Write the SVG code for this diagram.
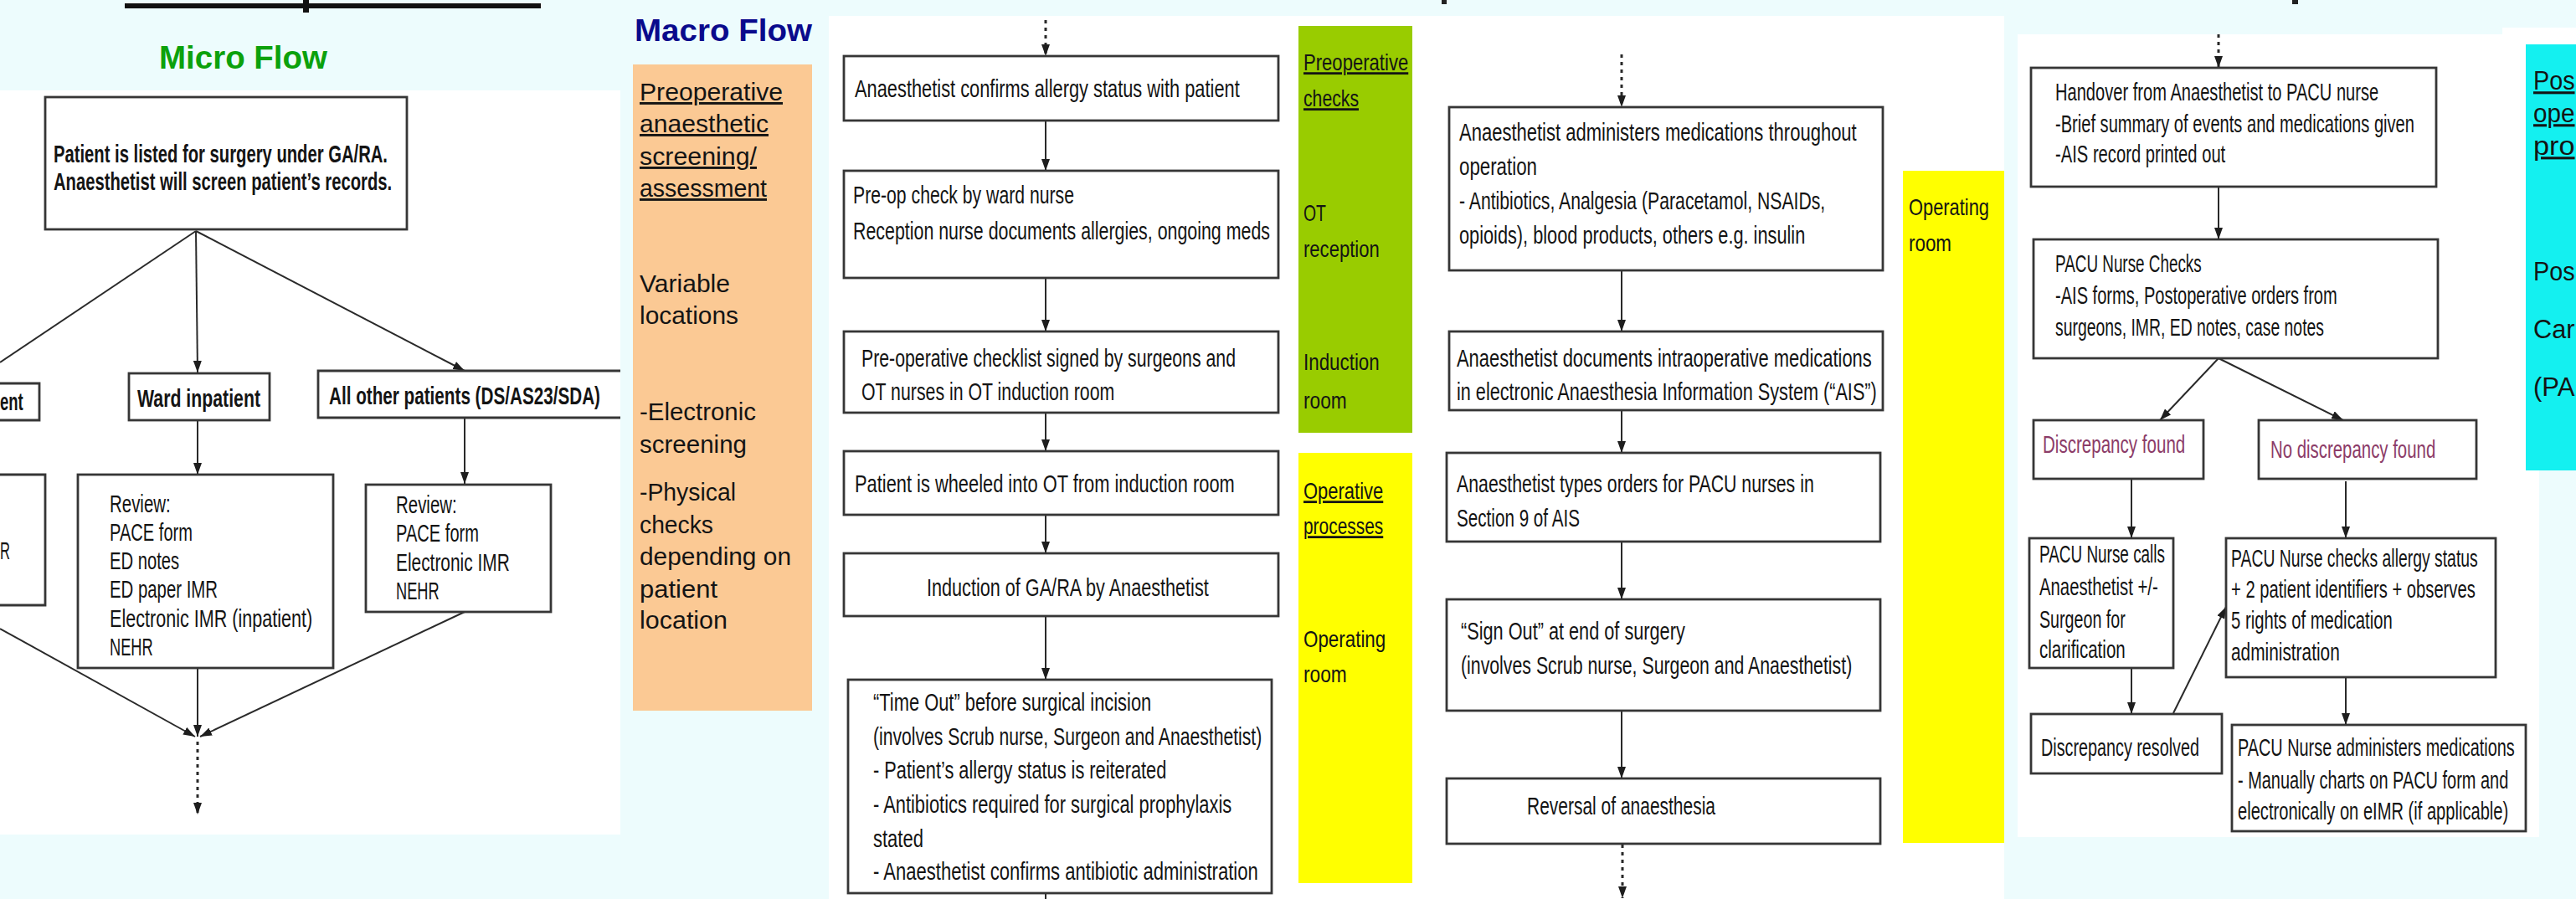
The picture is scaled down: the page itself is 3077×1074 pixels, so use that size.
<svg xmlns="http://www.w3.org/2000/svg" width="3077" height="1074" viewBox="0 0 3077 1074">
<style>
.bg{fill:#edfcfd}
.pn{fill:#ffffff}
.bx{fill:#ffffff;stroke:#363636;stroke-width:2.8}
.ln{stroke:#2a2a2a;stroke-width:2;fill:none}
.dl{stroke:#2a2a2a;stroke-width:3;fill:none;stroke-dasharray:4 5}
.t{font-family:"Liberation Sans",Arial,sans-serif;font-size:30px;fill:#141414}
.r29{font-size:29px}
.r28{font-size:28px}
.b{font-weight:bold}
.u{text-decoration:underline}
.m{font-size:29px}
.p{fill:#8c3c68}
</style>
<defs>
<marker id="ah" viewBox="0 0 14 10" refX="14" refY="5" markerWidth="14" markerHeight="10" markerUnits="userSpaceOnUse" orient="auto">
<path d="M0,0 L14,5 L0,10 z" fill="#1e1e1e"/>
</marker>
</defs>

<rect class="bg" x="0" y="0" width="3077" height="1074"/>
<g id="panels">
<rect class="pn" x="0" y="108" width="741" height="889"/>
<rect class="pn" x="990" y="19" width="1404" height="1055"/>
<rect class="pn" x="2410" y="41" width="623" height="959"/>
<rect class="pn" x="2989" y="33" width="88" height="30"/>
<rect x="149" y="4" width="497" height="6" fill="#111"/>
<rect x="362" y="0" width="7" height="15" fill="#111"/>
<rect x="1722" y="0" width="6" height="5" fill="#222"/>
<rect x="2738" y="0" width="7" height="5" fill="#222"/>
</g>

<g id="micro-title">
<text class="t b" x="190" y="82" style="font-size:38px;fill:#0ca10c" textLength="201" lengthAdjust="spacingAndGlyphs">Micro Flow</text>
</g>

<g id="connectors">
<path class="ln" d="M234,276 L0,433"/>
<path class="ln" d="M234,276 L236,445" marker-end="url(#ah)"/>
<path class="ln" d="M234,276 L555,443" marker-end="url(#ah)"/>
<path class="ln" d="M236,502 L236,567" marker-end="url(#ah)"/>
<path class="ln" d="M555,499 L555,578" marker-end="url(#ah)"/>
<path class="ln" d="M0,751 L233,880" marker-end="url(#ah)"/>
<path class="ln" d="M236,798 L236,880" marker-end="url(#ah)"/>
<path class="ln" d="M555,731 L239,880" marker-end="url(#ah)"/>
<path class="dl" d="M236,886 L236,973" marker-end="url(#ah)"/>

<path class="dl" d="M1249,24 L1249,67" marker-end="url(#ah)"/>
<path class="ln" d="M1249,144 L1249,204" marker-end="url(#ah)"/>
<path class="ln" d="M1249,332 L1249,396" marker-end="url(#ah)"/>
<path class="ln" d="M1249,493 L1249,539" marker-end="url(#ah)"/>
<path class="ln" d="M1249,615 L1249,661" marker-end="url(#ah)"/>
<path class="ln" d="M1249,736 L1249,812" marker-end="url(#ah)"/>
<path class="ln" d="M1249,1067 L1249,1074"/>

<path class="dl" d="M1937,65 L1937,128" marker-end="url(#ah)"/>
<path class="ln" d="M1937,323 L1937,396" marker-end="url(#ah)"/>
<path class="ln" d="M1937,470 L1937,541" marker-end="url(#ah)"/>
<path class="ln" d="M1937,647 L1937,716" marker-end="url(#ah)"/>
<path class="ln" d="M1937,849 L1937,930" marker-end="url(#ah)"/>
<path class="dl" d="M1938,1009 L1938,1073" marker-end="url(#ah)"/>

<path class="dl" d="M2650,41 L2650,81" marker-end="url(#ah)"/>
<path class="ln" d="M2650,223 L2650,286" marker-end="url(#ah)"/>
<path class="ln" d="M2650,428 L2580,502" marker-end="url(#ah)"/>
<path class="ln" d="M2650,428 L2799,502" marker-end="url(#ah)"/>
<path class="ln" d="M2546,572 L2546,643" marker-end="url(#ah)"/>
<path class="ln" d="M2802,575 L2802,643" marker-end="url(#ah)"/>
<path class="ln" d="M2546,798 L2546,853" marker-end="url(#ah)"/>
<path class="ln" d="M2596,852 L2659,725" marker-end="url(#ah)"/>
<path class="ln" d="M2802,803 L2802,866" marker-end="url(#ah)"/>
</g>

<g id="n-listed">
<rect class="bx" x="54" y="116" width="432" height="158"/>
<text class="t b" x="64" y="194" transform="matrix(.75 0 0 1 16 0)" textLength="532" lengthAdjust="spacingAndGlyphs">Patient is listed for surgery under GA/RA.</text>
<text class="t b" x="64" y="227" transform="matrix(.75 0 0 1 16 0)" textLength="539" lengthAdjust="spacingAndGlyphs">Anaesthetist will screen patient’s records.</text>
</g>
<g id="n-ent">
<path class="bx" d="M0,458 H47 V502 H0"/>
<text class="t b" x="0" y="490" transform="matrix(.75 0 0 1 0 0)" textLength="37" lengthAdjust="spacingAndGlyphs">ent</text>
</g>
<g id="n-ward">
<rect class="bx" x="154" y="446" width="168" height="56"/>
<text class="t b" x="164" y="486" transform="matrix(.75 0 0 1 41 0)" textLength="196" lengthAdjust="spacingAndGlyphs">Ward inpatient</text>
</g>
<g id="n-other">
<path class="bx" d="M741,443 H380 V499 H741"/>
<text class="t b" x="393" y="483" transform="matrix(.75 0 0 1 98.25 0)" textLength="432" lengthAdjust="spacingAndGlyphs">All other patients (DS/AS23/SDA)</text>
</g>
<g id="n-review-left">
<path class="bx" d="M0,567 H54 V723 H0"/>
<text class="t r29" x="0" y="668" transform="matrix(.75 0 0 1 0 0)" textLength="16" lengthAdjust="spacingAndGlyphs">R</text>
</g>
<g id="n-review-ward">
<rect class="bx" x="93" y="567" width="305" height="231"/>
<text class="t r29" x="131" y="612" transform="matrix(.75 0 0 1 32.75 0)" textLength="97" lengthAdjust="spacingAndGlyphs">Review:</text>
<text class="t r29" x="131" y="646" transform="matrix(.75 0 0 1 32.75 0)" textLength="132" lengthAdjust="spacingAndGlyphs">PACE form</text>
<text class="t r29" x="131" y="680" transform="matrix(.75 0 0 1 32.75 0)" textLength="111" lengthAdjust="spacingAndGlyphs">ED notes</text>
<text class="t r29" x="131" y="714" transform="matrix(.75 0 0 1 32.75 0)" textLength="172" lengthAdjust="spacingAndGlyphs">ED paper IMR</text>
<text class="t r29" x="131" y="749" transform="matrix(.75 0 0 1 32.75 0)" textLength="323" lengthAdjust="spacingAndGlyphs">Electronic IMR (inpatient)</text>
<text class="t r29" x="131" y="783" transform="matrix(.75 0 0 1 32.75 0)" textLength="69" lengthAdjust="spacingAndGlyphs">NEHR</text>
</g>
<g id="n-review-other">
<rect class="bx" x="437" y="579" width="221" height="152"/>
<text class="t r29" x="473" y="613" transform="matrix(.75 0 0 1 118.25 0)" textLength="97" lengthAdjust="spacingAndGlyphs">Review:</text>
<text class="t r29" x="473" y="647" transform="matrix(.75 0 0 1 118.25 0)" textLength="132" lengthAdjust="spacingAndGlyphs">PACE form</text>
<text class="t r29" x="473" y="682" transform="matrix(.75 0 0 1 118.25 0)" textLength="181" lengthAdjust="spacingAndGlyphs">Electronic IMR</text>
<text class="t r29" x="473" y="716" transform="matrix(.75 0 0 1 118.25 0)" textLength="69" lengthAdjust="spacingAndGlyphs">NEHR</text>
</g>

<g id="macro">
<text class="t b" x="758" y="49" style="font-size:36px;fill:#0a0a8c" textLength="212" lengthAdjust="spacingAndGlyphs">Macro Flow</text>
<rect x="756" y="77" width="214" height="772" fill="#fbc994"/>
<text class="t m u" x="764" y="120" textLength="171" lengthAdjust="spacingAndGlyphs">Preoperative</text>
<text class="t m u" x="764" y="158" textLength="154" lengthAdjust="spacingAndGlyphs">anaesthetic</text>
<text class="t m u" x="764" y="197" textLength="140" lengthAdjust="spacingAndGlyphs">screening/</text>
<text class="t m u" x="764" y="235" textLength="152" lengthAdjust="spacingAndGlyphs">assessment</text>
<text class="t m" x="764" y="349" textLength="108" lengthAdjust="spacingAndGlyphs">Variable</text>
<text class="t m" x="764" y="387" textLength="118" lengthAdjust="spacingAndGlyphs">locations</text>
<text class="t m" x="764" y="502" textLength="139" lengthAdjust="spacingAndGlyphs">-Electronic</text>
<text class="t m" x="764" y="541" textLength="128" lengthAdjust="spacingAndGlyphs">screening</text>
<text class="t m" x="764" y="598" textLength="115" lengthAdjust="spacingAndGlyphs">-Physical</text>
<text class="t m" x="764" y="637" textLength="88" lengthAdjust="spacingAndGlyphs">checks</text>
<text class="t m" x="764" y="675" textLength="181" lengthAdjust="spacingAndGlyphs">depending on</text>
<text class="t m" x="764" y="714" textLength="93" lengthAdjust="spacingAndGlyphs">patient</text>
<text class="t m" x="764" y="751" textLength="105" lengthAdjust="spacingAndGlyphs">location</text>
</g>

<g id="n-confirm">
<rect class="bx" x="1008" y="67" width="519" height="77"/>
<text class="t" x="1021" y="116" transform="matrix(.75 0 0 1 255.25 0)" textLength="613" lengthAdjust="spacingAndGlyphs">Anaesthetist confirms allergy status with patient</text>
</g>
<g id="n-preop">
<rect class="bx" x="1008" y="204" width="519" height="128"/>
<text class="t" x="1019" y="243" transform="matrix(.75 0 0 1 254.75 0)" textLength="352" lengthAdjust="spacingAndGlyphs">Pre-op check by ward nurse</text>
<text class="t" x="1019" y="286" transform="matrix(.75 0 0 1 254.75 0)" textLength="664" lengthAdjust="spacingAndGlyphs">Reception nurse documents allergies, ongoing meds</text>
</g>
<g id="n-checklist">
<rect class="bx" x="1008" y="396" width="519" height="97"/>
<text class="t" x="1029" y="438" transform="matrix(.75 0 0 1 257.25 0)" textLength="596" lengthAdjust="spacingAndGlyphs">Pre-operative checklist signed by surgeons and</text>
<text class="t" x="1029" y="478" transform="matrix(.75 0 0 1 257.25 0)" textLength="403" lengthAdjust="spacingAndGlyphs">OT nurses in OT induction room</text>
</g>
<g id="n-wheeled">
<rect class="bx" x="1008" y="539" width="519" height="76"/>
<text class="t" x="1021" y="588" transform="matrix(.75 0 0 1 255.25 0)" textLength="605" lengthAdjust="spacingAndGlyphs">Patient is wheeled into OT from induction room</text>
</g>
<g id="n-induction">
<rect class="bx" x="1008" y="661" width="519" height="75"/>
<text class="t" x="1107" y="712" transform="matrix(.75 0 0 1 276.75 0)" textLength="449" lengthAdjust="spacingAndGlyphs">Induction of GA/RA by Anaesthetist</text>
</g>
<g id="n-timeout">
<rect class="bx" x="1013" y="812" width="506" height="255"/>
<text class="t" x="1043" y="849" transform="matrix(.75 0 0 1 260.75 0)" textLength="443" lengthAdjust="spacingAndGlyphs">“Time Out” before surgical incision</text>
<text class="t" x="1043" y="890" transform="matrix(.75 0 0 1 260.75 0)" textLength="619" lengthAdjust="spacingAndGlyphs">(involves Scrub nurse, Surgeon and Anaesthetist)</text>
<text class="t" x="1043" y="930" transform="matrix(.75 0 0 1 260.75 0)" textLength="467" lengthAdjust="spacingAndGlyphs">- Patient’s allergy status is reiterated</text>
<text class="t" x="1043" y="971" transform="matrix(.75 0 0 1 260.75 0)" textLength="571" lengthAdjust="spacingAndGlyphs">- Antibiotics required for surgical prophylaxis</text>
<text class="t" x="1043" y="1012" transform="matrix(.75 0 0 1 260.75 0)" textLength="80" lengthAdjust="spacingAndGlyphs">stated</text>
<text class="t" x="1043" y="1051" transform="matrix(.75 0 0 1 260.75 0)" textLength="613" lengthAdjust="spacingAndGlyphs">- Anaesthetist confirms antibiotic administration</text>
</g>

<g id="bars">
<rect x="1551" y="31" width="136" height="486" fill="#99cc00"/>
<rect x="1551" y="541" width="136" height="514" fill="#ffff00"/>
<rect x="2273" y="204" width="121" height="803" fill="#ffff00"/>
<text class="t r28 u" x="1557" y="84" transform="matrix(.75 0 0 1 389.25 0)" textLength="167" lengthAdjust="spacingAndGlyphs">Preoperative</text>
<text class="t r28 u" x="1557" y="127" transform="matrix(.75 0 0 1 389.25 0)" textLength="88" lengthAdjust="spacingAndGlyphs">checks</text>
<text class="t r28" x="1557" y="264" transform="matrix(.75 0 0 1 389.25 0)" textLength="36" lengthAdjust="spacingAndGlyphs">OT</text>
<text class="t r28" x="1557" y="307" transform="matrix(.75 0 0 1 389.25 0)" textLength="121" lengthAdjust="spacingAndGlyphs">reception</text>
<text class="t r28" x="1557" y="442" transform="matrix(.75 0 0 1 389.25 0)" textLength="121" lengthAdjust="spacingAndGlyphs">Induction</text>
<text class="t r28" x="1557" y="488" transform="matrix(.75 0 0 1 389.25 0)" textLength="69" lengthAdjust="spacingAndGlyphs">room</text>
<text class="t r28 u" x="1557" y="596" transform="matrix(.75 0 0 1 389.25 0)" textLength="127" lengthAdjust="spacingAndGlyphs">Operative</text>
<text class="t r28 u" x="1557" y="638" transform="matrix(.75 0 0 1 389.25 0)" textLength="127" lengthAdjust="spacingAndGlyphs">processes</text>
<text class="t r28" x="1557" y="773" transform="matrix(.75 0 0 1 389.25 0)" textLength="131" lengthAdjust="spacingAndGlyphs">Operating</text>
<text class="t r28" x="1557" y="815" transform="matrix(.75 0 0 1 389.25 0)" textLength="69" lengthAdjust="spacingAndGlyphs">room</text>
<text class="t r28" x="2280" y="257" transform="matrix(.75 0 0 1 570 0)" textLength="128" lengthAdjust="spacingAndGlyphs">Operating</text>
<text class="t r28" x="2280" y="300" transform="matrix(.75 0 0 1 570 0)" textLength="68" lengthAdjust="spacingAndGlyphs">room</text>
</g>

<g id="n-administers">
<rect class="bx" x="1731" y="128" width="518" height="195"/>
<text class="t" x="1743" y="168" transform="matrix(.75 0 0 1 435.75 0)" textLength="633" lengthAdjust="spacingAndGlyphs">Anaesthetist administers medications throughout</text>
<text class="t" x="1743" y="209" transform="matrix(.75 0 0 1 435.75 0)" textLength="124" lengthAdjust="spacingAndGlyphs">operation</text>
<text class="t" x="1743" y="250" transform="matrix(.75 0 0 1 435.75 0)" textLength="583" lengthAdjust="spacingAndGlyphs">- Antibiotics, Analgesia (Paracetamol, NSAIDs,</text>
<text class="t" x="1743" y="291" transform="matrix(.75 0 0 1 435.75 0)" textLength="551" lengthAdjust="spacingAndGlyphs">opioids), blood products, others e.g. insulin</text>
</g>
<g id="n-documents">
<rect class="bx" x="1731" y="396" width="518" height="94"/>
<text class="t" x="1740" y="438" transform="matrix(.75 0 0 1 435 0)" textLength="661" lengthAdjust="spacingAndGlyphs">Anaesthetist documents intraoperative medications</text>
<text class="t" x="1740" y="478" transform="matrix(.75 0 0 1 435 0)" textLength="669" lengthAdjust="spacingAndGlyphs">in electronic Anaesthesia Information System (“AIS”)</text>
</g>
<g id="n-orders">
<rect class="bx" x="1728" y="541" width="518" height="106"/>
<text class="t" x="1740" y="588" transform="matrix(.75 0 0 1 435 0)" textLength="569" lengthAdjust="spacingAndGlyphs">Anaesthetist types orders for PACU nurses in</text>
<text class="t" x="1740" y="629" transform="matrix(.75 0 0 1 435 0)" textLength="196" lengthAdjust="spacingAndGlyphs">Section 9 of AIS</text>
</g>
<g id="n-signout">
<rect class="bx" x="1728" y="716" width="518" height="133"/>
<text class="t" x="1745" y="764" transform="matrix(.75 0 0 1 436.25 0)" textLength="357" lengthAdjust="spacingAndGlyphs">“Sign Out” at end of surgery</text>
<text class="t" x="1745" y="805" transform="matrix(.75 0 0 1 436.25 0)" textLength="623" lengthAdjust="spacingAndGlyphs">(involves Scrub nurse, Surgeon and Anaesthetist)</text>
</g>
<g id="n-reversal">
<rect class="bx" x="1728" y="930" width="518" height="78"/>
<text class="t" x="1824" y="973" transform="matrix(.75 0 0 1 456 0)" textLength="300" lengthAdjust="spacingAndGlyphs">Reversal of anaesthesia</text>
</g>

<g id="n-handover">
<rect class="bx" x="2426" y="81" width="484" height="142"/>
<text class="t r29" x="2455" y="120" transform="matrix(.75 0 0 1 613.75 0)" textLength="515" lengthAdjust="spacingAndGlyphs">Handover from Anaesthetist to PACU nurse</text>
<text class="t r29" x="2455" y="158" transform="matrix(.75 0 0 1 613.75 0)" textLength="572" lengthAdjust="spacingAndGlyphs">-Brief summary of events and medications given</text>
<text class="t r29" x="2455" y="194" transform="matrix(.75 0 0 1 613.75 0)" textLength="271" lengthAdjust="spacingAndGlyphs">-AIS record printed out</text>
</g>
<g id="n-pacu-checks">
<rect class="bx" x="2429" y="286" width="483" height="142"/>
<text class="t r29" x="2455" y="325" transform="matrix(.75 0 0 1 613.75 0)" textLength="233" lengthAdjust="spacingAndGlyphs">PACU Nurse Checks</text>
<text class="t r29" x="2455" y="363" transform="matrix(.75 0 0 1 613.75 0)" textLength="449" lengthAdjust="spacingAndGlyphs">-AIS forms, Postoperative orders from</text>
<text class="t r29" x="2455" y="401" transform="matrix(.75 0 0 1 613.75 0)" textLength="428" lengthAdjust="spacingAndGlyphs">surgeons, IMR, ED notes, case notes</text>
</g>
<g id="n-disc">
<rect class="bx" x="2429" y="502" width="203" height="70"/>
<text class="t r29 p" x="2440" y="541" transform="matrix(.75 0 0 1 610 0)" textLength="227" lengthAdjust="spacingAndGlyphs">Discrepancy found</text>
</g>
<g id="n-nodisc">
<rect class="bx" x="2698" y="502" width="260" height="70"/>
<text class="t r29 p" x="2712" y="547" transform="matrix(.75 0 0 1 678 0)" textLength="263" lengthAdjust="spacingAndGlyphs">No discrepancy found</text>
</g>
<g id="n-calls">
<rect class="bx" x="2424" y="643" width="172" height="155"/>
<text class="t r29" x="2436" y="672" transform="matrix(.75 0 0 1 609 0)" textLength="200" lengthAdjust="spacingAndGlyphs">PACU Nurse calls</text>
<text class="t r29" x="2436" y="711" transform="matrix(.75 0 0 1 609 0)" textLength="189" lengthAdjust="spacingAndGlyphs">Anaesthetist +/-</text>
<text class="t r29" x="2436" y="750" transform="matrix(.75 0 0 1 609 0)" textLength="137" lengthAdjust="spacingAndGlyphs">Surgeon for</text>
<text class="t r29" x="2436" y="786" transform="matrix(.75 0 0 1 609 0)" textLength="137" lengthAdjust="spacingAndGlyphs">clarification</text>
</g>
<g id="n-checks-allergy">
<rect class="bx" x="2659" y="643" width="322" height="166"/>
<text class="t r29" x="2665" y="677" transform="matrix(.75 0 0 1 666.25 0)" textLength="393" lengthAdjust="spacingAndGlyphs">PACU Nurse checks allergy status</text>
<text class="t r29" x="2665" y="714" transform="matrix(.75 0 0 1 666.25 0)" textLength="389" lengthAdjust="spacingAndGlyphs">+ 2 patient identifiers + observes</text>
<text class="t r29" x="2665" y="751" transform="matrix(.75 0 0 1 666.25 0)" textLength="257" lengthAdjust="spacingAndGlyphs">5 rights of medication</text>
<text class="t r29" x="2665" y="789" transform="matrix(.75 0 0 1 666.25 0)" textLength="173" lengthAdjust="spacingAndGlyphs">administration</text>
</g>
<g id="n-resolved">
<rect class="bx" x="2426" y="853" width="228" height="71"/>
<text class="t r29" x="2438" y="903" transform="matrix(.75 0 0 1 609.5 0)" textLength="252" lengthAdjust="spacingAndGlyphs">Discrepancy resolved</text>
</g>
<g id="n-pacu-admin">
<rect class="bx" x="2666" y="866" width="351" height="127"/>
<text class="t r29" x="2673" y="903" transform="matrix(.75 0 0 1 668.25 0)" textLength="441" lengthAdjust="spacingAndGlyphs">PACU Nurse administers medications</text>
<text class="t r29" x="2673" y="942" transform="matrix(.75 0 0 1 668.25 0)" textLength="431" lengthAdjust="spacingAndGlyphs">- Manually charts on PACU form and</text>
<text class="t r29" x="2673" y="979" transform="matrix(.75 0 0 1 668.25 0)" textLength="431" lengthAdjust="spacingAndGlyphs">electronically on eIMR (if applicable)</text>
</g>

<g id="postop">
<rect x="3017" y="53" width="60" height="509" fill="#14f0f0"/>
<text class="t u" x="3026" y="107" style="font-size:31px" transform="matrix(.75 0 0 1 756.5 0)" textLength="66" lengthAdjust="spacingAndGlyphs">Pos</text>
<text class="t u" x="3026" y="146" style="font-size:31px" transform="matrix(.75 0 0 1 756.5 0)" textLength="66" lengthAdjust="spacingAndGlyphs">ope</text>
<text class="t u" x="3026" y="185" style="font-size:31px" transform="matrix(.75 0 0 1 756.5 0)" textLength="66" lengthAdjust="spacingAndGlyphs">pro</text>
<text class="t" x="3026" y="335" style="font-size:31px" transform="matrix(.75 0 0 1 756.5 0)" textLength="66" lengthAdjust="spacingAndGlyphs">Pos</text>
<text class="t" x="3026" y="404" style="font-size:31px" transform="matrix(.75 0 0 1 756.5 0)" textLength="66" lengthAdjust="spacingAndGlyphs">Car</text>
<text class="t" x="3026" y="473" style="font-size:31px" transform="matrix(.75 0 0 1 756.5 0)" textLength="66" lengthAdjust="spacingAndGlyphs">(PA</text>
</g>
</svg>
